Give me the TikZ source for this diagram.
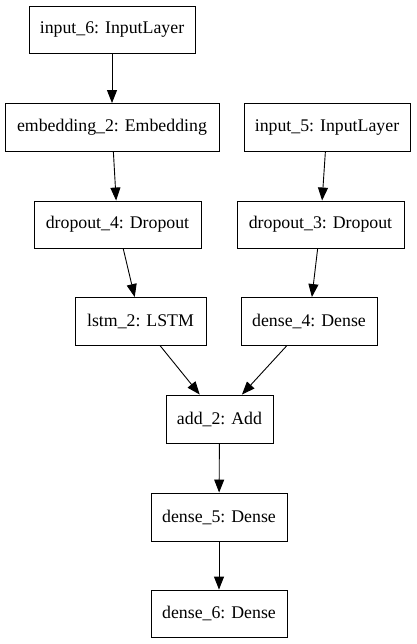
\documentclass[tikz,border=0pt]{standalone}
\usepackage{fontspec}
\setmainfont{Liberation Serif}
\usetikzlibrary{arrows.meta}
\begin{document}
\begin{tikzpicture}[x=1pt,y=-1pt,
  layer/.style={draw=black,line width=0.9pt,inner sep=0pt,minimum height=47pt,font=\fontsize{17.8}{20}\selectfont},
  edge/.style={line width=0.9pt,-{Triangle[length=13pt,width=10pt]}}]
\useasboundingbox (0,0) rectangle (416,644);
\node[layer,minimum width=166pt] (in6) at (112,29.5) {input\_6: InputLayer};
\node[layer,minimum width=214pt,minimum height=48pt] (emb) at (112,127.5) {embedding\_2: Embedding};
\node[layer,minimum width=166pt,minimum height=48pt] (in5) at (327,127.5) {input\_5: InputLayer};
\node[layer,minimum width=167pt] (dr4) at (117.5,224.5) {dropout\_4: Dropout};
\node[layer,minimum width=167pt] (dr3) at (320.5,224.5) {dropout\_3: Dropout};
\node[layer,minimum width=131pt,minimum height=48pt] (lstm) at (140.5,321.5) {lstm\_2: LSTM};
\node[layer,minimum width=136pt,minimum height=48pt] (d4) at (309,321.5) {dense\_4: Dense};
\node[layer,minimum width=107pt,minimum height=48pt] (add) at (219.5,419) {add\_2: Add};
\node[layer,minimum width=136pt,minimum height=48pt] (d5) at (219,517) {dense\_5: Dense};
\node[layer,minimum width=136pt] (d6) at (219,613.5) {dense\_6: Dense};
\draw[edge] (in6) -- (emb);
\draw[edge] (emb) -- (dr4);
\draw[edge] (in5) -- (dr3);
\draw[edge] (dr4) -- (lstm);
\draw[edge] (dr3) -- (d4);
\draw[edge] (lstm) -- (add);
\draw[edge] (d4) -- (add);
\draw[edge] (add) -- (d5);
\draw[edge] (d5) -- (d6);
\end{tikzpicture}
\end{document}
